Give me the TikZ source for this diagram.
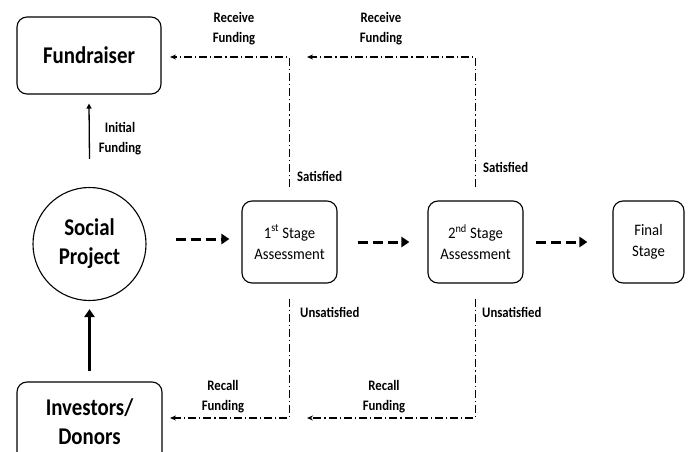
\documentclass[tikz,border=0pt]{standalone}
\usepackage{fontspec}
\setmainfont{Carlito}
\newfontfamily\bigfont[FakeStretch=0.87]{Carlito}
\newfontfamily\lblfont[FakeStretch=0.88]{Carlito}
\newfontfamily\boxfont[FakeStretch=0.92]{Carlito}
\usetikzlibrary{arrows.meta,calc}
\begin{document}
\begin{tikzpicture}[x=1pt,y=-1pt,
  box/.style={draw, line width=1.1pt, rounded corners=10pt, align=center, inner sep=0pt},
  big/.style={font=\bigfont\fontsize{24}{29}\selectfont\bfseries},
  stagetext/.style={font=\boxfont\fontsize{16}{21}\selectfont},
  lbl/.style={font=\lblfont\fontsize{14.5}{20}\selectfont\bfseries, align=center, inner sep=0pt},
  dd/.style={line width=1.1pt, dash pattern=on 8pt off 3pt on 1.2pt off 3pt, -{Stealth[length=6pt,width=5pt]}},
  flow/.style={line width=3pt, dash pattern=on 10pt off 5pt, -{Triangle[length=8pt,width=10pt]}},
]
\clip (0,0) rectangle (689,452);
\fill[white] (0,0) rectangle (689,452);
% nodes
\node[box,big,minimum width=144pt,minimum height=77pt] (fund) at (89,55.5) {Fundraiser};
\node[draw,circle,line width=1.1pt,big,align=center,minimum size=113pt,inner sep=0pt] (sp) at (89.5,244) {Social\\Project};
\node[box,big,minimum width=145pt,minimum height=80pt] (inv) at (89.5,422) {Investors/\\Donors};
\node[box,stagetext,minimum width=95pt,minimum height=82pt] (s1) at (289.5,242) {1\textsuperscript{st} Stage\\Assessment};
\node[box,stagetext,minimum width=95pt,minimum height=82pt] (s2) at (475.5,242) {2\textsuperscript{nd} Stage\\Assessment};
\node[box,stagetext,minimum width=71pt,minimum height=82pt] (fin) at (648.5,242) {Final\\Stage};
% solid arrows
\draw[line width=1.3pt,-{Triangle[length=5pt,width=5pt]}] ($(sp.north)+(0,-28)$) -- ($(fund.south)+(0,9)$);
\draw[line width=3pt,-{Triangle[length=8pt,width=10pt]}] ($(inv.north)+(0,-10)$) -- ($(sp.south)+(0,8)$);
% flow arrows
\draw[flow] ($(sp.east |- s1.west)+(29,-3)$) -- ($(s1.west)+(-12,-3)$);
\draw[flow] ($(s1.east)+(20,0)$) -- ($(s2.west)+(-18,0)$);
\draw[flow] ($(s2.east)+(12,0)$) -- ($(fin.west)+(-25,0)$);
% feedback paths
\coordinate (r1) at (170,57);
\coordinate (r2) at (307,57);
\coordinate (c1) at (170,418);
\coordinate (c2) at (307,418);
\draw[dd] ($(s1.north)+(0,-13)$) |- (r1);
\draw[dd] ($(s2.north)+(0,-13)$) |- (r2);
\draw[dd] ($(s1.south)+(0,15)$) |- (c1);
\draw[dd] ($(s2.south)+(0,15)$) |- (c2);
% labels
\node[lbl] (rf1) at (234,29) {Receive\\Funding};
\node[lbl] (rf2) at (381,29) {Receive\\Funding};
\node[lbl,anchor=west] (sat1) at (297,176) {Satisfied};
\node[lbl,anchor=west] (sat2) at (483,167) {Satisfied};
\node[lbl] (ifund) at (120,139) {Initial\\Funding};
\node[lbl,anchor=west] (uns1) at (300,312) {Unsatisfied};
\node[lbl,anchor=west] (uns2) at (482,312) {Unsatisfied};
\node[lbl] (rc1) at (223,397) {Recall\\Funding};
\node[lbl] (rc2) at (384,397) {Recall\\Funding};
\end{tikzpicture}
\end{document}
